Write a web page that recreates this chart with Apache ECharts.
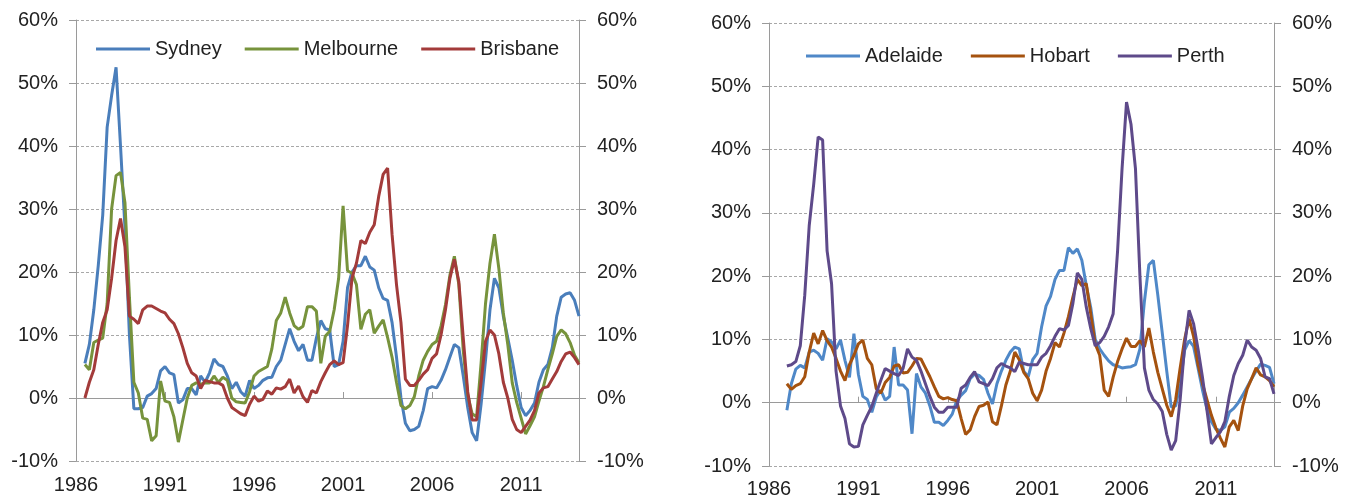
<!DOCTYPE html>
<html><head><meta charset="utf-8">
<script src="https://cdn.jsdelivr.net/npm/echarts@6/dist/echarts.min.js"></script>
<style>html,body{margin:0;padding:0;background:#fff}#c{width:1355px;height:502px}</style>
</head><body><div id="c"></div>
<script>
// ---- categories (quarters) and tick labels ----
const firstYear = 1986, lastYear = 2014, lastQuarter = 2;
const quarters = [];
for (let y = firstYear; y <= lastYear; y++) {
  for (let q = 1; q <= 4; q++) {
    if (y === lastYear && q > lastQuarter) break;
    quarters.push(y + 'Q' + q);
  }
}
const xTickYears = ['1986', '1991', '1996', '2001', '2006', '2011'];
const yTicks = [-10, 0, 10, 20, 30, 40, 50, 60];

// ---- left panel series (annual % change), from 1986Q3 ----
const leftStart = '1986Q3';
const sydney = [
  5.5, 8.5, 14, 21, 29, 43, 48, 52.5, 40, 27,
  10, -1.7, -1.7, -1.5, 0.3, 0.7, 1.5, 4.3, 5.0, 4.0,
  3.7, -0.8, -0.3, 1.5, 1.5, 0.5, 3.5, 2.5, 4.0, 6.2,
  5.3, 5.0, 3.5, 1.5, 2.5, 1.0, 0.3, 2.8, 1.5, 2.0,
  2.8, 3.2, 3.3, 5.0, 6.0, 8.5, 11.0, 9.0, 7.5, 8.5,
  6.0, 6.0, 9.5, 12.3, 11.0, 10.8, 5.0, 5.3, 9.0, 17.5,
  20.0, 21.0, 21.0, 22.5, 20.8, 20.3, 17.5, 15.8, 15.5, 12.0,
  6.5, 0.0, -4.0, -5.2, -5.0, -4.5, -2.0, 1.5, 1.8, 1.6,
  2.8, 4.5, 6.5, 8.5, 8.0, 3.5, -1.5, -5.5, -6.8, -1.0,
  6.0, 14.0, 19.0, 17.5, 13.0, 9.5, 6.0, 2.0, -1.5, -2.8,
  -2.0, -0.8, 2.5, 4.5, 5.3, 8.0, 13.0, 16.0, 16.5, 16.7,
  15.5, 13.0
];
const melbourne = [
  5.3, 4.5, 8.8, 9.2, 9.5, 15, 30, 35.3, 35.8, 31,
  16, 2.5, 0.8, -3.2, -3.4, -6.8, -6.0, 2.7, -0.5, -0.7,
  -3.0, -7.0, -3.5, 0.0, 2.0, 2.4, 2.2, 2.4, 2.4, 3.5,
  2.5, 3.3, 2.8, 0.0, -0.6, -0.7, -0.8, 1.0, 3.5, 4.2,
  4.6, 5.0, 7.8, 12.3, 13.5, 16.0, 13.5, 11.5, 10.9, 11.4,
  14.5, 14.5, 13.8, 5.5, 9.8, 10.6, 14.0, 19.0, 30.5, 20.2,
  19.8, 18.0, 10.9, 13.3, 14.0, 10.3, 11.4, 12.4, 9.6, 6.5,
  2.5, -1.2, -1.7, -1.2, 0.2, 3.5, 6.0, 7.4, 8.5, 9.0,
  11.4, 14.8, 19.5, 22.5, 18.0, 7.5, 0.5, -2.5, -3.0, 5.5,
  15.0, 21.4, 26.0, 20.5, 13.5, 8.5, 2.4, -0.7, -3.2, -5.7,
  -4.4, -3.0, -0.5, 1.8, 4.5, 7.0, 9.8, 10.8, 10.2, 8.8,
  6.8, 5.6
];
const brisbane = [
  0, 2.5, 4.5, 8.5, 12, 14, 19, 25, 28.5, 24,
  13, 12.5, 11.8, 14.0, 14.6, 14.6, 14.2, 13.8, 13.5, 12.5,
  11.8, 10.2, 8.0, 5.5, 4.0, 3.5, 1.5, 2.8, 2.6, 2.4,
  2.4, 2.0, 0.0, -1.5, -2.0, -2.5, -2.8, -1.0, 0.3, -0.5,
  -0.2, 1.1, 0.6, 1.6, 1.4, 1.8, 3.0, 0.8, 1.9, 0.2,
  -0.7, 1.2, 0.8, 2.6, 4.0, 5.3, 5.9, 5.3, 5.6, 11.5,
  19.0, 21.4, 25.0, 24.5, 26.3, 27.5, 32.0, 35.5, 36.5, 26.0,
  18.0, 12.0, 3.0, 2.0, 2.0, 2.8, 3.8, 4.5, 6.3, 7.0,
  10.0, 14.0, 19.0, 22.0, 18.5, 9.5, 1.0, -3.5, -3.5, 2.5,
  9.0, 10.8, 10.0, 7.0, 2.5, 0.0, -3.4, -5.0, -5.5, -4.5,
  -3.5, -2.0, 0.8, 1.6, 1.8, 3.0, 4.2, 5.8, 7.0, 7.3,
  6.4, 5.3
];

// ---- right panel series, from 1987Q1 ----
const rightStart = '1987Q1';
const adelaide = [
  -1.2, 3.0, 5.3, 5.9, 5.5, 8.0, 8.3, 7.8, 6.7, 10.1,
  9.6, 8.5, 9.9, 6.7, 4.0, 10.9, 4.5, 1.0, 0.5, -1.5,
  0.9, 2.0, 0.4, 1.0, 8.8, 2.8, 2.8, 2.0, -4.9, 4.6,
  2.5, 1.5, -0.5, -3.1, -3.1, -3.6, -2.8, -1.8, 0.3, 1.2,
  1.9, 3.8, 4.5, 4.3, 3.7, 1.5, -0.2, 3.0, 5.0, 6.7,
  8.0, 8.8, 8.5, 5.0, 4.1, 6.8, 7.8, 12.0, 15.3, 16.8,
  19.5, 20.9, 20.9, 24.5, 23.6, 24.3, 22.5, 18.5, 15.0, 10.0,
  8.5, 7.5, 6.6, 6.0, 5.8, 5.5, 5.6, 5.7, 6.0, 8.5,
  16.0, 21.8, 22.5, 17.0, 11.0, 5.0, -0.7, -0.5, 3.0, 8.3,
  9.8, 8.9, 5.5, 2.0, -1.0, -3.0, -4.2, -4.4, -3.8, -1.5,
  -0.9, 0.0, 1.2, 2.5, 3.8, 5.0, 6.1, 5.9, 5.6, 3.0
];
const hobart = [
  3.0, 2.1, 2.7, 3.0, 4.1, 8.0, 11.0, 9.3, 11.4, 9.8,
  8.8, 7.0, 5.0, 3.5, 6.0, 7.5, 9.3, 9.9, 7.0, 6.0,
  2.2, 1.5, 3.2, 4.0, 5.8, 6.0, 4.7, 4.8, 5.8, 7.0,
  6.9, 5.5, 4.1, 2.5, 1.0, 0.6, 0.8, 0.5, 0.3, -2.5,
  -5.0, -4.3, -2.2, -0.6, -0.4, 0.1, -3.0, -3.5, -0.5, 2.8,
  5.0, 8.0, 6.8, 4.8, 3.8, 1.5, 0.3, 2.0, 5.0, 7.0,
  9.5, 8.8, 11.0, 13.6, 16.7, 19.5, 18.5, 18.8, 14.0, 9.3,
  7.5, 2.0, 1.0, 4.0, 6.5, 8.5, 10.2, 8.9, 8.9, 9.8,
  8.8, 11.8, 8.0, 4.8, 2.2, -0.4, -2.2, 0.5, 5.5, 10.0,
  13.3, 10.5, 6.0, 3.0, 0.5, -2.0, -4.0, -5.6, -7.0, -3.8,
  -2.8, -4.4, -0.5, 2.2, 3.8, 5.5, 4.4, 4.1, 3.5, 2.5
];
const perth = [
  5.8, 6.0, 6.5, 9.0, 17.0, 28.0, 34.5, 42.0, 41.5, 24.0,
  18.8, 5.0, -0.5, -2.5, -6.5, -7.0, -6.9, -3.5, -2.0, -0.6,
  1.5, 3.5, 5.4, 5.0, 4.6, 4.3, 5.4, 8.5, 7.2, 6.7,
  5.0, 3.0, 1.0, -0.7, -1.5, -1.5, -0.7, -0.7, -0.7, 2.3,
  2.8, 4.0, 4.9, 3.3, 3.0, 2.7, 3.8, 5.5, 6.2, 5.8,
  5.5, 4.9, 6.4, 6.2, 6.0, 6.0, 6.0, 7.2, 7.8, 9.0,
  10.5, 11.7, 11.5, 12.2, 15.7, 20.5, 19.5, 15.1, 11.7, 9.0,
  9.5, 10.5, 12.0, 14.0, 24.0, 37.0, 47.5, 44.0, 37.0, 20.0,
  5.5, 2.0, 0.5, -0.2, -1.4, -5.0, -7.5, -6.0, 0.5, 9.0,
  14.6, 12.5, 8.5, 4.0, -1.2, -6.5, -5.5, -4.6, -3.0, 1.0,
  4.3, 6.2, 7.5, 9.9, 8.8, 8.3, 7.0, 4.1, 3.8, 1.4
];

// ---- build chart ----
function pad(start, arr) {
  const k = quarters.indexOf(start);
  const out = quarters.map(() => null);
  arr.forEach((v, i) => { if (k + i < out.length) out[k + i] = v; });
  return out;
}
const FONT = 'Liberation Sans, Arial, sans-serif';
const FS = 20;
const TXT = '#222222';
const AXC = '#9a9a9a';
const isTick = (idx, value) => value.slice(4) === 'Q1' && xTickYears.indexOf(value.slice(0, 4)) >= 0;

function xAxesFor(g, margin) {
  return [
    { gridIndex: g, type: 'category', data: quarters, boundaryGap: false,
      axisLine: { show: false, onZero: false }, axisTick: { show: false },
      splitLine: { show: false },
      axisLabel: { interval: isTick, formatter: v => v.slice(0, 4), margin: margin,
        fontSize: FS, fontFamily: FONT, color: TXT } },
    { gridIndex: g, type: 'category', data: quarters, boundaryGap: false,
      axisLine: { show: true, onZero: true, lineStyle: { color: AXC, width: 1 } },
      axisTick: { show: true, interval: isTick, length: 6, lineStyle: { color: AXC } },
      axisLabel: { show: false }, splitLine: { show: false } }
  ];
}
function yAxesFor(g) {
  const base = { gridIndex: g, type: 'value', min: yTicks[0], max: yTicks[yTicks.length - 1], interval: 10,
    axisLine: { show: true, onZero: false, lineStyle: { color: AXC, width: 1 } },
    axisTick: { show: true, length: 7, lineStyle: { color: AXC } },
    axisLabel: { formatter: '{value}%', margin: 18, fontSize: FS, fontFamily: FONT, color: TXT } };
  return [
    Object.assign({}, base, { position: 'left',
      splitLine: { show: true, lineStyle: { color: '#a8a8a8', width: 1, type: [3, 2] } } }),
    Object.assign({}, base, { position: 'right', splitLine: { show: false } })
  ];
}
function line(name, data, color, xi, yi) {
  return { name: name, type: 'line', data: data, xAxisIndex: xi, yAxisIndex: yi,
    symbol: 'none', smooth: false, connectNulls: false, animation: false,
    lineStyle: { color: color, width: 3 }, itemStyle: { color: color } };
}
const legendBase = { icon: 'rect', itemWidth: 54, itemHeight: 3,
  textStyle: { fontSize: FS, fontFamily: FONT, color: TXT }, selectedMode: false };

const option = {
  animation: false,
  backgroundColor: '#ffffff',
  grid: [
    { left: 76, top: 20, width: 503, height: 441, outerBoundsMode: 'none', containLabel: false },
    { left: 769, top: 23, width: 505, height: 443, outerBoundsMode: 'none', containLabel: false }
  ],
  legend: [
    Object.assign({}, legendBase, { left: 91, top: 34, itemGap: 23, data: ['Sydney', 'Melbourne', 'Brisbane'] }),
    Object.assign({}, legendBase, { left: 801, top: 41, itemGap: 28, data: ['Adelaide', 'Hobart', 'Perth'] })
  ],
  xAxis: xAxesFor(0, 14).concat(xAxesFor(1, 13)),
  yAxis: yAxesFor(0).concat(yAxesFor(1)),
  series: [
    line('Sydney', pad(leftStart, sydney), '#4a7ebb', 0, 0),
    line('Melbourne', pad(leftStart, melbourne), '#77933c', 0, 0),
    line('Brisbane', pad(leftStart, brisbane), '#a33b3a', 0, 0),
    line('Adelaide', pad(rightStart, adelaide), '#4f88c8', 2, 2),
    line('Hobart', pad(rightStart, hobart), '#a5520f', 2, 2),
    line('Perth', pad(rightStart, perth), '#5e4a8a', 2, 2)
  ]
};
const chart = echarts.init(document.getElementById('c'), null, { renderer: 'canvas' });
chart.setOption(option);
</script>
</body></html>
